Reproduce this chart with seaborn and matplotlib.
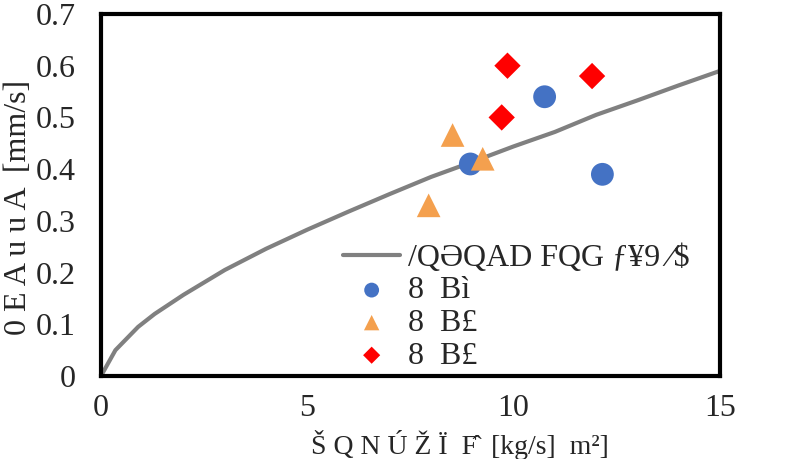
import numpy as np
import pandas as pd
import seaborn as sns
import matplotlib.pyplot as plt

# curve
curve_x = [0, 0.35, 0.9, 1.3, 2.0, 3.0, 4.0, 5.0, 6.0, 7.0, 8.0, 9.0, 10.0, 11.0, 12.0, 13.0, 14.0, 15.0]
curve_y = [0, 0.05, 0.095, 0.12, 0.157, 0.205, 0.246, 0.283, 0.318, 0.352, 0.385, 0.414, 0.444, 0.472, 0.505, 0.533, 0.562, 0.59]

blue_x = [8.95, 10.75, 12.15]
blue_y = [0.41, 0.54, 0.39]
orange_x = [8.52, 9.25, 7.94]
orange_y = [0.466, 0.42, 0.33]
red_x = [9.85, 9.71, 11.9]
red_y = [0.60, 0.50, 0.58]

curve_label = "/QƏQAD FQG ƒ¥9 ⁄$"
series_labels = ["8  Bì", "8  B£", "8  B£"]
x_label = "Š Q N Ú Ž Ï  F̂  [kg/s]  m²]"
y_label = "0 E A u u A  [mm/s]"

sns.set_style("white")
plt.rcParams['font.family'] = ['Liberation Serif', 'DejaVu Serif']

fig = plt.figure(figsize=(7.97, 4.59), dpi=100)
ax = fig.add_axes([0.1267, 0.1808, 0.9034 - 0.1267, 0.9695 - 0.1808])

sns.lineplot(x=curve_x, y=curve_y, ax=ax, color='#808080', linewidth=3, label=curve_label)
sns.scatterplot(x=blue_x, y=blue_y, ax=ax, color='#4472C4', marker='o', s=270,
                edgecolor='none', label=series_labels[0], zorder=3)
sns.scatterplot(x=orange_x, y=orange_y, ax=ax, color='#F4A04E', marker='^', s=290,
                edgecolor='none', label=series_labels[1], zorder=3)
sns.scatterplot(x=red_x, y=red_y, ax=ax, color='#FF0000', marker='D', s=180,
                edgecolor='none', label=series_labels[2], zorder=3)

ax.set_xlim(0, 15)
ax.set_ylim(0, 0.7)
ax.set_xticks([0, 5, 10, 15])
ax.set_xticklabels(['0', '5', '10', '15'])
ax.set_yticks([0, 0.1, 0.2, 0.3, 0.4, 0.5, 0.6, 0.7])
ax.set_yticklabels(['0', '0.1', '0.2', '0.3', '0.4', '0.5', '0.6', '0.7'])
ax.tick_params(direction='in', length=7, width=2.5, labelsize=23, color='black')
ax.tick_params(axis='y', pad=18)
ax.tick_params(axis='x', pad=13)
for sp in ax.spines.values():
    sp.set_visible(True)
    sp.set_color('black')
    sp.set_linewidth(3)

ax.set_xlabel(x_label, fontsize=20)
ax.set_ylabel(y_label, fontsize=23)
ax.xaxis.label.set_va('center')
ax.yaxis.label.set_va('center')
ax.xaxis.set_label_coords(0.58, -0.19)
ax.yaxis.set_label_coords(-0.133, 0.467)

leg = ax.legend(loc='upper left', bbox_to_anchor=(0.365, 0.41), frameon=False,
                fontsize=23, handlelength=1.8, handletextpad=0.25, labelspacing=0.1,
                borderpad=0, markerscale=0.65)

fig.savefig('out.png', dpi=100)
